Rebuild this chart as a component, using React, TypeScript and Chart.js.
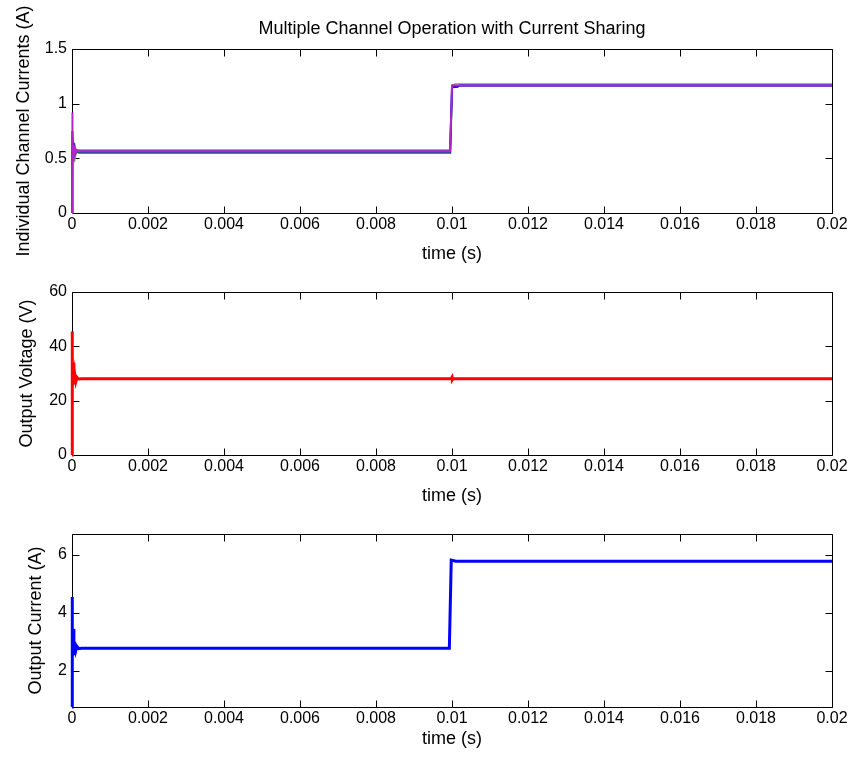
import React, { useEffect, useRef } from "react";
import { Chart, registerables } from "chart.js";

Chart.register(...registerables);

// ---------- text ----------
const TITLE = "Multiple Channel Operation with Current Sharing";
const X_LABEL = "time (s)";
const Y_LABEL_1 = "Individual Channel Currents (A)";
const Y_LABEL_2 = "Output Voltage (V)";
const Y_LABEL_3 = "Output Current (A)";

// ---------- ticks ----------
const X_TICKS = [0, 0.002, 0.004, 0.006, 0.008, 0.01, 0.012, 0.014, 0.016, 0.018, 0.02];
const X_TICK_LABELS = ["0", "0.002", "0.004", "0.006", "0.008", "0.01", "0.012", "0.014", "0.016", "0.018", "0.02"];
const Y1_TICKS = [0, 0.5, 1, 1.5];
const Y1_TICK_LABELS = ["0", "0.5", "1", "1.5"];
const Y2_TICKS = [0, 20, 40, 60];
const Y2_TICK_LABELS = ["0", "20", "40", "60"];
const Y3_TICKS = [2, 4, 6];
const Y3_TICK_LABELS = ["2", "4", "6"];

// ---------- panel 1: individual channel currents ----------
const CH_GREEN_T = [0, 0.00001, 0.00003, 0.00005, 0.00008, 0.00012, 0.0002, 0.00996, 0.01001, 0.0101, 0.02];
const CH_GREEN_I = [0, 0.6, 0.5, 0.58, 0.53, 0.555, 0.549, 0.549, 1.16, 1.165, 1.165];

const CH_GRAY_T = [0, 0.00001, 0.00003, 0.00005, 0.00008, 0.00012, 0.0002, 0.00995, 0.01, 0.0101, 0.02];
const CH_GRAY_I = [0, 0.7, 0.48, 0.62, 0.5, 0.58, 0.576, 0.576, 1.17, 1.18, 1.18];

const CH_BLUE_T = [0, 0.00001, 0.00003, 0.00005, 0.00008, 0.00012, 0.0002, 0.00995, 0.01, 0.01015, 0.0102, 0.02];
const CH_BLUE_I = [0, 0.75, 0.52, 0.64, 0.54, 0.57, 0.563, 0.563, 1.15, 1.155, 1.166, 1.166];

const CH_MAG_T = [0, 0.000005, 0.00001, 0.00002, 0.00003, 0.00004, 0.00006, 0.00008, 0.0001, 0.00015, 0.0002, 0.00995, 0.01, 0.0101, 0.02];
const CH_MAG_I = [0, 0.92, 0.5, 0.68, 0.48, 0.62, 0.52, 0.59, 0.55, 0.57, 0.564, 0.564, 1.167, 1.167, 1.167];

// ---------- panel 2: output voltage ----------
const VOUT_T = [0, 0.000005, 0.00001, 0.00003, 0.00005, 0.00007, 0.0001, 0.00013, 0.00017, 0.00025, 0.00998, 0.01, 0.01001, 0.01003, 0.02];
const VOUT_V = [0, 45.5, 25, 34, 26, 30, 27, 28.6, 28.0, 28.1, 28.1, 28.6, 27.7, 28.1, 28.1];

// ---------- panel 3: output current ----------
const IOUT_T = [0, 0.000005, 0.00001, 0.00003, 0.00005, 0.00007, 0.0001, 0.00013, 0.00018, 0.00025, 0.00993, 0.00998, 0.0101, 0.02];
const IOUT_I = [0.76, 4.55, 2.45, 3.45, 2.55, 3.0, 2.7, 2.85, 2.77, 2.78, 2.78, 5.82, 5.78, 5.78];

const FONT_FAMILY = "'Liberation Sans', Arial, Helvetica, sans-serif";
Chart.defaults.font.family = FONT_FAMILY;
Chart.defaults.color = "#000";

const W = 855;
const TICK_LEN = 7;
const TICK_FONT_SIZE = 16;
const LABEL_FONT_SIZE = 18;

function pts(t: number[], v: number[]) {
  return t.map((x, i) => ({ x, y: v[i] }));
}

const framePlugin = {
  id: "matlabFrame",
  beforeDatasetsDraw(chart: any) {
    const { ctx, chartArea, scales } = chart;
    const { left, right, top, bottom } = chartArea;
    const L = Math.round(left) + 0.5;
    const R = Math.round(right) + 0.5;
    const T = Math.round(top) + 0.5;
    const B = Math.round(bottom) + 0.5;
    ctx.save();
    ctx.strokeStyle = "#000";
    ctx.lineWidth = 1;
    ctx.beginPath();
    ctx.rect(L, T, R - L, B - T);
    scales.x.ticks.forEach((tk: any) => {
      const px = Math.round(scales.x.getPixelForValue(tk.value)) + 0.5;
      ctx.moveTo(px, B);
      ctx.lineTo(px, B - TICK_LEN);
      ctx.moveTo(px, T);
      ctx.lineTo(px, T + TICK_LEN);
    });
    scales.y.ticks.forEach((tk: any) => {
      const py = Math.round(scales.y.getPixelForValue(tk.value)) + 0.5;
      ctx.moveTo(L, py);
      ctx.lineTo(L + TICK_LEN, py);
      ctx.moveTo(R, py);
      ctx.lineTo(R - TICK_LEN, py);
    });
    ctx.stroke();
    ctx.restore();
  },
};

interface PanelSpec {
  canvasTop: number;
  canvasHeight: number;
  padTop: number;
  xAxisHeight: number;
  xTitlePadBottom: number;
  yTitlePad: number;
  yLabel: string;
  yMin: number;
  yMax: number;
  yTicks: number[];
  yTickLabels: string[];
  title?: { text: string; padTop: number; padBottom: number };
  datasets: any[];
}

function makeConfig(p: PanelSpec): any {
  const tickFont = { size: TICK_FONT_SIZE, family: FONT_FAMILY };
  const labelFont = { size: LABEL_FONT_SIZE, family: FONT_FAMILY };
  return {
    type: "line",
    data: { datasets: p.datasets },
    plugins: [framePlugin],
    options: {
      animation: false,
      responsive: false,
      devicePixelRatio: 1,
      events: [],
      layout: { padding: { left: 0, right: 23, top: p.padTop, bottom: 0 } },
      plugins: {
        legend: { display: false },
        tooltip: { enabled: false },
        title: p.title
          ? {
              display: true,
              text: p.title.text,
              fullSize: false,
              color: "#000",
              font: { size: LABEL_FONT_SIZE, weight: "normal", family: FONT_FAMILY },
              padding: { top: p.title.padTop, bottom: p.title.padBottom },
            }
          : { display: false },
      },
      elements: { point: { radius: 0 }, line: { tension: 0 } },
      scales: {
        x: {
          type: "linear",
          min: 0,
          max: 0.02,
          grid: { display: false, drawTicks: false },
          border: { display: false },
          ticks: {
            font: tickFont,
            color: "#000",
            padding: 2,
            autoSkip: false,
            maxRotation: 0,
            callback: (v: number) => {
              const i = X_TICKS.findIndex((t) => Math.abs(t - v) < 1e-9);
              return i >= 0 ? X_TICK_LABELS[i] : "";
            },
          },
          afterBuildTicks: (s: any) => {
            s.ticks = X_TICKS.map((value) => ({ value }));
          },
          afterFit: (s: any) => {
            s.height = p.xAxisHeight;
          },
          title: {
            display: true,
            text: X_LABEL,
            color: "#000",
            font: labelFont,
            padding: { top: 0, bottom: p.xTitlePadBottom },
          },
        },
        y: {
          type: "linear",
          min: p.yMin,
          max: p.yMax,
          grid: { display: false, drawTicks: false },
          border: { display: false },
          ticks: {
            font: tickFont,
            color: "#000",
            padding: 5,
            autoSkip: false,
            callback: (v: number) => {
              const i = p.yTicks.findIndex((t) => Math.abs(t - v) < 1e-9);
              return i >= 0 ? p.yTickLabels[i] : "";
            },
          },
          afterBuildTicks: (s: any) => {
            s.ticks = p.yTicks.map((value) => ({ value }));
          },
          afterFit: (s: any) => {
            s.width = 72;
          },
          title: {
            display: true,
            text: p.yLabel,
            color: "#000",
            font: labelFont,
            padding: { top: p.yTitlePad, bottom: 0 },
          },
        },
      },
    },
  };
}

function line(data: any[], color: string, width: number) {
  return {
    data,
    borderColor: color,
    backgroundColor: color,
    borderWidth: width,
    pointRadius: 0,
    fill: false,
    tension: 0,
    clip: { left: 2, right: 0, top: 0, bottom: 2 },
  };
}

// Chart.js paints the first dataset on top, so the magenta channel is listed first.
const PANELS: PanelSpec[] = [
  {
    canvasTop: 0,
    canvasHeight: 270,
    padTop: 0,
    xAxisHeight: 57,
    xTitlePadBottom: 5.2,
    yTitlePad: 13.2,
    yLabel: Y_LABEL_1,
    yMin: 0,
    yMax: 1.5,
    yTicks: Y1_TICKS,
    yTickLabels: Y1_TICK_LABELS,
    title: { text: TITLE, padTop: 18.2, padBottom: 9.2 },
    datasets: [
      line(pts(CH_MAG_T, CH_MAG_I), "#b026c8", 2),
      line(pts(CH_BLUE_T, CH_BLUE_I), "#0000ff", 2),
      line(pts(CH_GRAY_T, CH_GRAY_I), "#8a8a8a", 1.5),
      line(pts(CH_GREEN_T, CH_GREEN_I), "#008000", 1.5),
    ],
  },
  {
    canvasTop: 270,
    canvasHeight: 243,
    padTop: 22,
    xAxisHeight: 58,
    xTitlePadBottom: 6.2,
    yTitlePad: 16.7,
    yLabel: Y_LABEL_2,
    yMin: 0,
    yMax: 60,
    yTicks: Y2_TICKS,
    yTickLabels: Y2_TICK_LABELS,
    datasets: [line(pts(VOUT_T, VOUT_V), "#ff0000", 3)],
  },
  {
    canvasTop: 513,
    canvasHeight: 244,
    padTop: 21,
    xAxisHeight: 50,
    xTitlePadBottom: 7.2,
    yTitlePad: 25.7,
    yLabel: Y_LABEL_3,
    yMin: 0.76,
    yMax: 6.72,
    yTicks: Y3_TICKS,
    yTickLabels: Y3_TICK_LABELS,
    datasets: [line(pts(IOUT_T, IOUT_I), "#0000ff", 3)],
  },
];

function Panel({ spec }: { spec: PanelSpec }) {
  const ref = useRef<HTMLCanvasElement | null>(null);
  useEffect(() => {
    if (!ref.current) return;
    const chart = new Chart(ref.current, makeConfig(spec));
    return () => chart.destroy();
  }, [spec]);
  return (
    <canvas
      ref={ref}
      width={W}
      height={spec.canvasHeight}
      style={{
        position: "absolute",
        left: 0,
        top: spec.canvasTop,
        width: W,
        height: spec.canvasHeight,
        display: "block",
      }}
    />
  );
}

export default function App() {
  return (
    <div
      style={{
        position: "absolute",
        left: 0,
        top: 0,
        width: W,
        height: 757,
        background: "#fff",
        overflow: "hidden",
      }}
    >
      {PANELS.map((s, i) => (
        <Panel key={i} spec={s} />
      ))}
    </div>
  );
}
